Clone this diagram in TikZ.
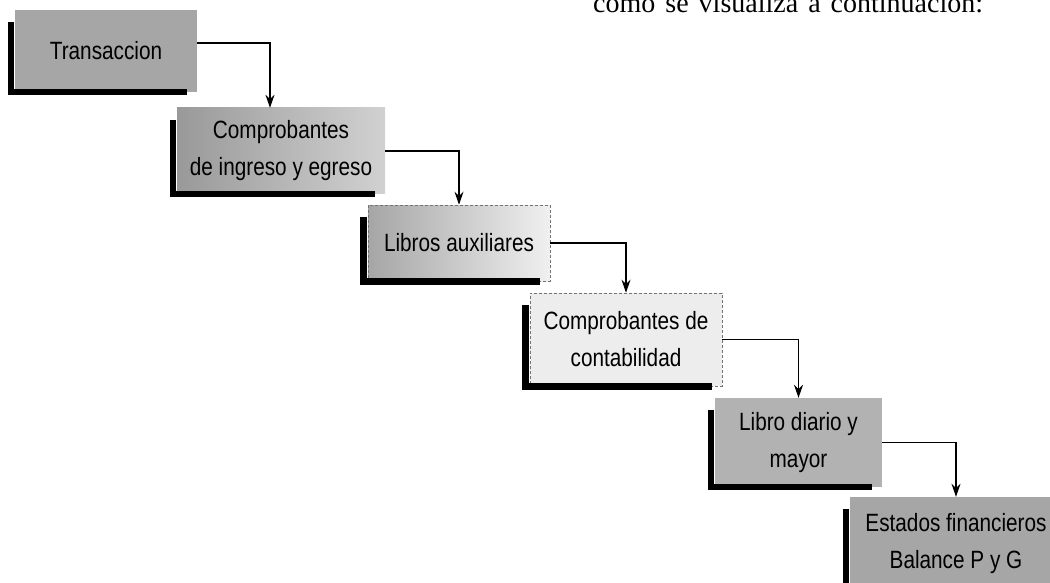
\documentclass[tikz,border=0pt]{standalone}
\usepackage{fontspec}
\setmainfont{Liberation Serif}
\newfontfamily\pasofont[FakeStretch=0.83]{Liberation Sans}
\usetikzlibrary{arrows.meta}

\begin{document}
\begin{tikzpicture}[x=1pt,y=-1pt,
  paso/.style={inner sep=0pt, align=center, font=\pasofont\fontsize{25}{37}\selectfont},
  claro/.style={draw=black!55, densely dashed, line width=0.6pt},
  conn/.style={line width=1.1pt, -{Stealth[length=13pt,width=9pt]}},
  sombra/.style={line width=6.5pt, line join=miter}]
\clip (0,0) rectangle (1050,583);
\node[anchor=base west, inner sep=0pt, font=\fontsize{28}{32}\selectfont] (cita) at (593,13) {\spaceskip=10pt\relax como se visualiza a continuación:};
\node[paso, fill=black!35, minimum width=182pt, minimum height=82pt] (b1) at (106,51) {Transaccion};
\node[paso, left color=black!40, right color=black!18, minimum width=208pt, minimum height=86pt] (b2) at (281,151) {Comprobantes\\de ingreso y egreso};
\node[paso, claro, left color=black!35, right color=black!6, minimum width=182pt, minimum height=76pt] (b3) at (459,243) {Libros auxiliares};
\node[paso, claro, fill=black!7, minimum width=192pt, minimum height=93pt] (b4) at (626,339.5) {Comprobantes de\\contabilidad};
\node[paso, fill=black!30, minimum width=167pt, minimum height=89pt] (b5) at (798.5,442.5) {Libro diario y\\mayor};
\node[paso, fill=black!35, minimum width=212pt, minimum height=93pt] (b6) at (956,543.5) {Estados financieros\\Balance P y G};
\foreach \n in {b1,b2,b3,b4,b5,b6}
{
\draw[sombra] ([shift={(-4pt,-12pt)}]\n.north west) -- ([xshift=-4pt]\n.south west) -- ([xshift=-10pt]\n.south east);
}
\draw[conn] ([yshift=8pt]b1.east) -| ([xshift=-11pt]b2.north);
\foreach \a/\b in {b2/b3,b3/b4,b4/b5,b5/b6}
{
\draw[conn] (\a) -| (\b);
}
\end{tikzpicture}
\end{document}
